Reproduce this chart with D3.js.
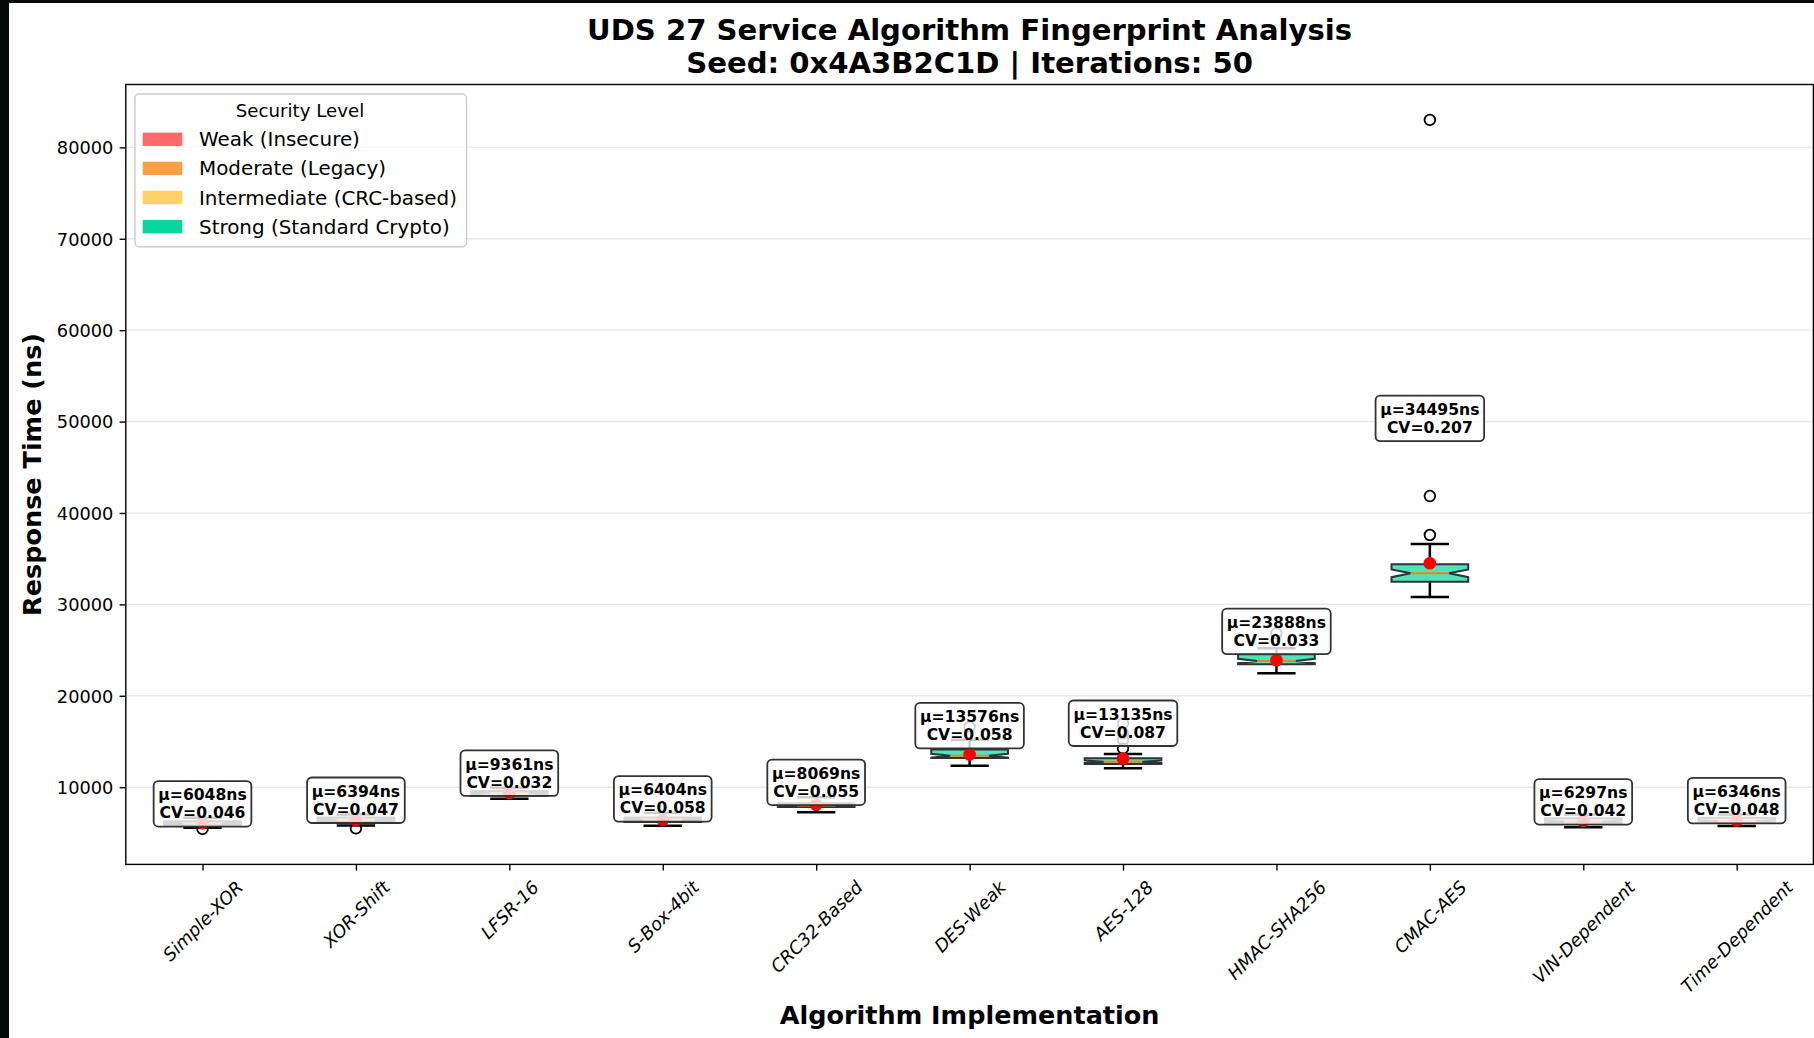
<!DOCTYPE html>
<html><head><meta charset="utf-8">
<script src="https://cdn.jsdelivr.net/npm/d3@7"></script>
<style>
body{margin:0;background:#fff;}
svg{display:block;font-family:"DejaVu Sans",sans-serif;}
</style>
</head><body>
<svg id="chart" width="1814" height="1038"></svg>
<script>
// ---------------- data ----------------
const categories = ['Simple-XOR','XOR-Shift','LFSR-16','S-Box-4bit','CRC32-Based','DES-Weak','AES-128','HMAC-SHA256','CMAC-AES','VIN-Dependent','Time-Dependent'];
const securityLevel = ['Weak','Weak','Moderate','Moderate','Intermediate','Strong','Strong','Strong','Strong','Weak','Weak'];
const whiskerLow  = [5560, 5821, 8742, 5788, 7250, 12340, 12070, 22460, 30807, 5612, 5757];
const q1Values    = [5830, 6182, 9070, 6182, 7820, 13183, 12538, 23445, 32480, 6050, 6100];
const medians     = [6040, 6400, 9350, 6420, 8000, 13435, 12790, 23805, 33400, 6250, 6300];
const q3Values    = [6260, 6685, 9573, 6685, 8250, 14135, 13160, 24540, 34385, 6600, 6650];
const whiskerHigh = [6650, 7000, 9950, 7200, 8900, 15180, 13630, 25195, 36605, 7000, 7000];
const outliers    = [[5430],[5500],[],[],[],[16600],[14250,15170,15900,16990],[26835],[37590,41855,83000],[],[]];
const means       = [6048, 6394, 9361, 6404, 8069, 13576, 13135, 23888, 34495, 6297, 6346];
const cvValues    = [0.046, 0.047, 0.032, 0.058, 0.055, 0.058, 0.087, 0.033, 0.207, 0.042, 0.048];
const iterations  = 50;
const yTicks      = [10000, 20000, 30000, 40000, 50000, 60000, 70000, 80000];
const legendLevels = ['Weak','Moderate','Intermediate','Strong'];
const legendLabels = ['Weak (Insecure)','Moderate (Legacy)','Intermediate (CRC-based)','Strong (Standard Crypto)'];
const levelColors  = ['#ff6b6b','#ff9f43','#ffd166','#06d6a0'];
const titleLines = ['UDS 27 Service Algorithm Fingerprint Analysis','Seed: 0x4A3B2C1D | Iterations: 50'];

// ---------------- layout ----------------
const W = 1814, H = 1038;
const P = {left:125.8, right:1813.4, top:84.5, bottom:864.4};
const colorOf = d3.scaleOrdinal().domain(legendLevels).range(levelColors);

const svg = d3.select('#chart');
svg.append('rect').attr('width',W).attr('height',H).attr('fill','#fff');
// dark screen edge of the screenshot
svg.append('rect').attr('x',0).attr('y',0).attr('width',9).attr('height',H).attr('fill','#050808');
svg.append('rect').attr('x',0).attr('y',0).attr('width',W).attr('height',3).attr('fill','#050808');

const x = d3.scalePoint().domain(categories).range([P.left, P.right]).padding(0.5);
const step = x.step();
const boxW = 0.5*step;

let allVals = [];
categories.forEach((c,i)=>{ allVals.push(whiskerLow[i], whiskerHigh[i], ...outliers[i]); });
const dmin = d3.min(allVals), dmax = d3.max(allVals), span = dmax - dmin;
const y = d3.scaleLinear().domain([dmin - 0.05*span, dmax + 0.05*span]).range([P.bottom, P.top]);

// grid
const g = svg.append('g');
g.selectAll('line.grid').data(yTicks).join('line')
  .attr('x1',P.left).attr('x2',P.right)
  .attr('y1',d=>y(d)).attr('y2',d=>y(d))
  .attr('stroke','#b0b0b0').attr('stroke-opacity',0.3).attr('stroke-width',1.4);

// boxes
const boxes = g.selectAll('g.box').data(categories).join('g').attr('class','box');
boxes.each(function(c,i){
  const sel = d3.select(this);
  const pos = x(c);
  const bl = pos - boxW/2, br = pos + boxW/2;
  const nl = pos - boxW/4, nr = pos + boxW/4;
  const iqr = q3Values[i] - q1Values[i];
  const ci = 1.57*iqr/Math.sqrt(iterations);
  const cilo = medians[i] - ci, cihi = medians[i] + ci;
  const pts = [[bl,q1Values[i]],[br,q1Values[i]],[br,cilo],[nr,medians[i]],[br,cihi],[br,q3Values[i]],
               [bl,q3Values[i]],[bl,cihi],[nl,medians[i]],[bl,cilo],[bl,q1Values[i]]];
  sel.append('line').attr('x1',pos).attr('x2',pos).attr('y1',y(q1Values[i])).attr('y2',y(whiskerLow[i]))
    .attr('stroke','#000').attr('stroke-width',2.5);
  sel.append('line').attr('x1',pos).attr('x2',pos).attr('y1',y(q3Values[i])).attr('y2',y(whiskerHigh[i]))
    .attr('stroke','#000').attr('stroke-width',2.5);
  [whiskerLow[i], whiskerHigh[i]].forEach(v=>{
    sel.append('line').attr('x1',nl).attr('x2',nr).attr('y1',y(v)).attr('y2',y(v))
      .attr('stroke','#000').attr('stroke-width',2.5);
  });
  sel.append('path').attr('d', d3.line().x(p=>p[0]).y(p=>y(p[1]))(pts)+'Z')
    .attr('fill',colorOf(securityLevel[i])).attr('fill-opacity',0.7)
    .attr('stroke','#2d3436').attr('stroke-width',2).attr('stroke-linejoin','miter');
  sel.append('line').attr('x1',nl).attr('x2',nr).attr('y1',y(medians[i])).attr('y2',y(medians[i]))
    .attr('stroke','#ff7f0e').attr('stroke-width',2);
  sel.selectAll('circle.out').data(outliers[i]).join('circle')
    .attr('cx',pos).attr('cy',v=>y(v)).attr('r',5.3)
    .attr('fill','none').attr('stroke','#000').attr('stroke-width',1.8);
  sel.append('circle').attr('cx',pos).attr('cy',y(means[i])).attr('r',6.3).attr('fill','#ff0000');
});

// annotations
const AF = 15.6, pad = 0.3*AF;
categories.forEach((c,i)=>{
  const pos = x(c);
  const std = cvValues[i]*means[i];
  const b2 = y(means[i] + 2*std);
  const b1 = b2 - 1.152*AF;
  const ga = svg.append('g');
  const rect = ga.append('rect');
  const t1 = ga.append('text').attr('x',pos).attr('y',b1).attr('text-anchor','middle')
    .attr('font-size',AF).attr('font-weight','bold').text(`μ=${means[i]}ns`);
  const t2 = ga.append('text').attr('x',pos).attr('y',b2).attr('text-anchor','middle')
    .attr('font-size',AF).attr('font-weight','bold').text(`CV=${cvValues[i].toFixed(3)}`);
  const tw = Math.max(t1.node().getComputedTextLength(), t2.node().getComputedTextLength());
  const top = b1 - 0.93*AF - pad, bot = b2 + 0.236*AF + pad;
  rect.attr('x',pos - tw/2 - pad).attr('y',top).attr('width',tw+2*pad).attr('height',bot-top)
    .attr('rx',pad).attr('fill','#fff').attr('fill-opacity',0.8)
    .attr('stroke','#333').attr('stroke-width',1.8);
});

// axes
const TF = 17.8;
const yAxis = d3.axisLeft(y).tickValues(yTicks).tickSize(6.2).tickPadding(6.2).tickFormat(d3.format('d'));
const ya = svg.append('g').attr('transform',`translate(${P.left},0)`).call(yAxis);
ya.select('.domain').remove();
ya.selectAll('.tick line').attr('stroke','#000').attr('stroke-width',1.4);
ya.selectAll('.tick text').attr('font-size',TF).attr('fill','#000').attr('font-family','DejaVu Sans').attr('dy','0.35em');

const xAxis = d3.axisBottom(x).tickSize(6.2).tickPadding(6.2);
const xa = svg.append('g').attr('transform',`translate(0,${P.bottom})`).call(xAxis);
xa.select('.domain').remove();
xa.selectAll('.tick line').attr('stroke','#000').attr('stroke-width',1.4);
xa.selectAll('.tick text').attr('font-size',TF).attr('fill','#000').attr('font-family','DejaVu Sans')
  .attr('font-style','italic').attr('text-anchor','middle').attr('y',0).attr('dy','0.346em')
  .each(function(){
    const L = this.getComputedTextLength();
    const bh = (L + 1.164*TF)*Math.SQRT1_2;
    d3.select(this).attr('transform',`translate(0,${12.4 + bh/2}) rotate(-45)`);
  });

// frame
svg.append('rect').attr('x',P.left).attr('y',P.top).attr('width',P.right-P.left).attr('height',P.bottom-P.top)
  .attr('fill','none').attr('stroke','#000').attr('stroke-width',1.4);

// labels
svg.append('text').attr('x',(P.left+P.right)/2).attr('y',1024).attr('text-anchor','middle')
  .attr('font-size',25.5).attr('font-weight','bold').text('Algorithm Implementation');
svg.append('text').attr('transform',`translate(41,${(P.top+P.bottom)/2}) rotate(-90)`).attr('text-anchor','middle')
  .attr('font-size',25.5).attr('font-weight','bold').text('Response Time (ns)');
titleLines.forEach((t,k)=>{
  svg.append('text').attr('x',(P.left+P.right)/2).attr('y',39.5 + k*33.7).attr('text-anchor','middle')
    .attr('font-size',29.1).attr('font-weight','bold').text(t);
});

// legend
const lg = svg.append('g');
lg.append('rect').attr('x',135).attr('y',94).attr('width',331.5).attr('height',152.7).attr('rx',4)
  .attr('fill','#fff').attr('fill-opacity',0.8).attr('stroke','#cccccc').attr('stroke-width',1.4);
lg.append('text').attr('x',300).attr('y',117.2).attr('text-anchor','middle').attr('font-size',18.2).text('Security Level');
legendLabels.forEach((lab,k)=>{
  const cy = 139.3 + k*29.1;
  lg.append('rect').attr('x',142.7).attr('y',cy-6.7).attr('width',39.6).attr('height',13.4).attr('fill',levelColors[k]);
  lg.append('text').attr('x',199).attr('y',cy+7).attr('font-size',19.9).text(lab);
});
</script>
</body></html>
